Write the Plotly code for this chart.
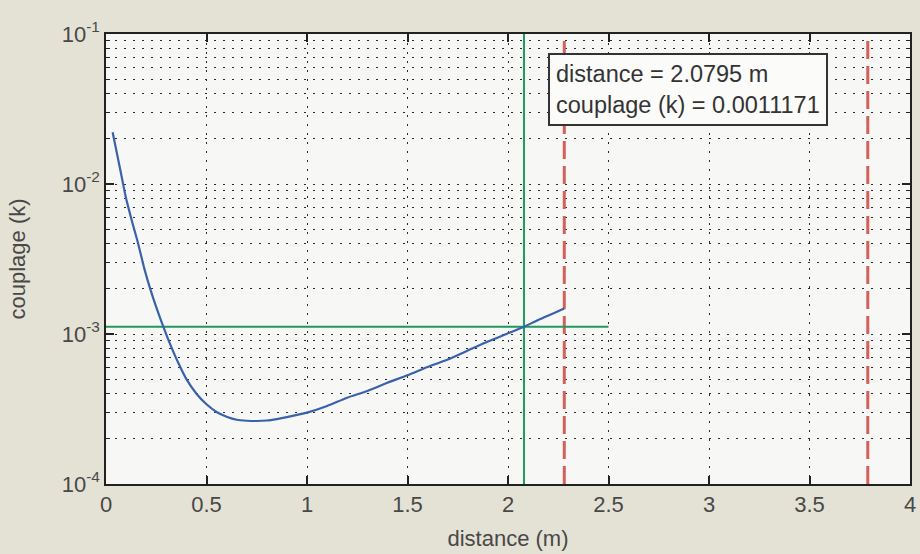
import plotly.graph_objects as go

# ---- data ----
distance_m = [0.033, 0.05, 0.075, 0.10, 0.13, 0.16, 0.19, 0.22, 0.25, 0.285, 0.32, 0.36,
              0.40, 0.45, 0.50, 0.55, 0.60, 0.65, 0.70, 0.75, 0.80, 0.85, 0.90, 1.00,
              1.10, 1.20, 1.30, 1.40, 1.50, 1.60, 1.70, 1.80, 1.90, 2.00, 2.0795, 2.15, 2.28]
couplage_k = [0.0221, 0.0171, 0.0117, 0.0080, 0.0056, 0.0040, 0.00275, 0.00200, 0.00151,
              0.00112, 0.00085, 0.00064, 0.00050, 0.00040, 0.00034, 0.000302, 0.000281,
              0.000268, 0.000264, 0.000263, 0.000265, 0.000271, 0.000279, 0.000299,
              0.000331, 0.000376, 0.000417, 0.000473, 0.000531, 0.000603, 0.000676,
              0.000776, 0.000891, 0.00101, 0.0011171, 0.00124, 0.00148]

cursor_distance = 2.0795
cursor_k = 0.0011171
hline_x = [0, 2.5]
limit_distances = [2.28, 3.79]

x_range = [0, 4]
y_range = [1e-4, 1e-1]
x_ticks = [0, 0.5, 1, 1.5, 2, 2.5, 3, 3.5, 4]
x_ticktext = ["0", "0.5", "1", "1.5", "2", "2.5", "3", "3.5", "4"]
y_ticks = [1e-4, 1e-3, 1e-2, 1e-1]
y_ticktext = ["10<sup>-4</sup>", "10<sup>-3</sup>", "10<sup>-2</sup>", "10<sup>-1</sup>"]

FONT = "Liberation Sans, Arial, sans-serif"
GRID = "#2a2a2a"
GRIDDASH = "1.5px,7.5px"

fig = go.Figure()

# red dashed limit lines
for xd in limit_distances:
    fig.add_trace(go.Scatter(x=[xd, xd], y=y_range, mode="lines",
                             line=dict(color="#d4605a", width=3, dash="18px,7px"),
                             hoverinfo="skip", showlegend=False))

# green cursor lines
fig.add_trace(go.Scatter(x=hline_x, y=[cursor_k, cursor_k], mode="lines",
                         line=dict(color="#1f9a5b", width=2), showlegend=False))
fig.add_trace(go.Scatter(x=[cursor_distance, cursor_distance], y=y_range, mode="lines",
                         line=dict(color="#1f9a5b", width=2), showlegend=False))

# blue curve
fig.add_trace(go.Scatter(x=distance_m, y=couplage_k, mode="lines",
                         line=dict(color="#3a62a8", width=2.2, shape="spline", smoothing=0.7),
                         showlegend=False))

fig.add_annotation(
    xref="paper", yref="paper", x=0.55, y=0.958, xanchor="left", yanchor="top",
    text=f"distance = {cursor_distance} m<br>couplage (k) = {cursor_k}",
    showarrow=False, align="left",
    font=dict(family=FONT, size=23.5, color="#333333"),
    bgcolor="#fbfbfa", bordercolor="#333333", borderwidth=2, borderpad=6,
)

fig.update_layout(
    width=920, height=554,
    margin=dict(l=106, r=10, t=34, b=70, autoexpand=False),
    paper_bgcolor="#e4e2d5",
    plot_bgcolor="#f7f7f5",
    font=dict(family=FONT, size=22, color="#484848"),
    showlegend=False,
)

fig.update_xaxes(
    automargin=False,
    range=x_range, tickmode="array", tickvals=x_ticks, ticktext=x_ticktext,
    showline=True, linecolor="#222222", linewidth=1.5, mirror="allticks",
    ticks="inside", ticklen=8, tickwidth=1.5, tickcolor="#222222",
    showgrid=True, gridcolor=GRID, gridwidth=1.2, griddash=GRIDDASH,
    zeroline=False,
    title=dict(text="distance (m)", font=dict(size=22, color="#484848"), standoff=14),
    tickfont=dict(size=22),
)

fig.update_yaxes(
    automargin=False,
    type="log", range=[-4, -1], tickmode="array", tickvals=y_ticks, ticktext=y_ticktext,
    showline=True, linecolor="#222222", linewidth=1.5, mirror="allticks",
    ticks="inside", ticklen=8, tickwidth=1.5, tickcolor="#222222",
    showgrid=True, gridcolor=GRID, gridwidth=1.2, griddash=GRIDDASH,
    minor=dict(dtick="D1", ticks="inside", ticklen=4, tickwidth=1.2, tickcolor="#222222",
               showgrid=True, gridcolor=GRID, gridwidth=1.2, griddash=GRIDDASH),
    zeroline=False,
    title=dict(text="couplage (k)", font=dict(size=22, color="#484848"), standoff=30),
    tickfont=dict(size=22),
)

fig.write_html("out.html", config={"displayModeBar": False},
               post_script="document.body.style.margin='0';")
